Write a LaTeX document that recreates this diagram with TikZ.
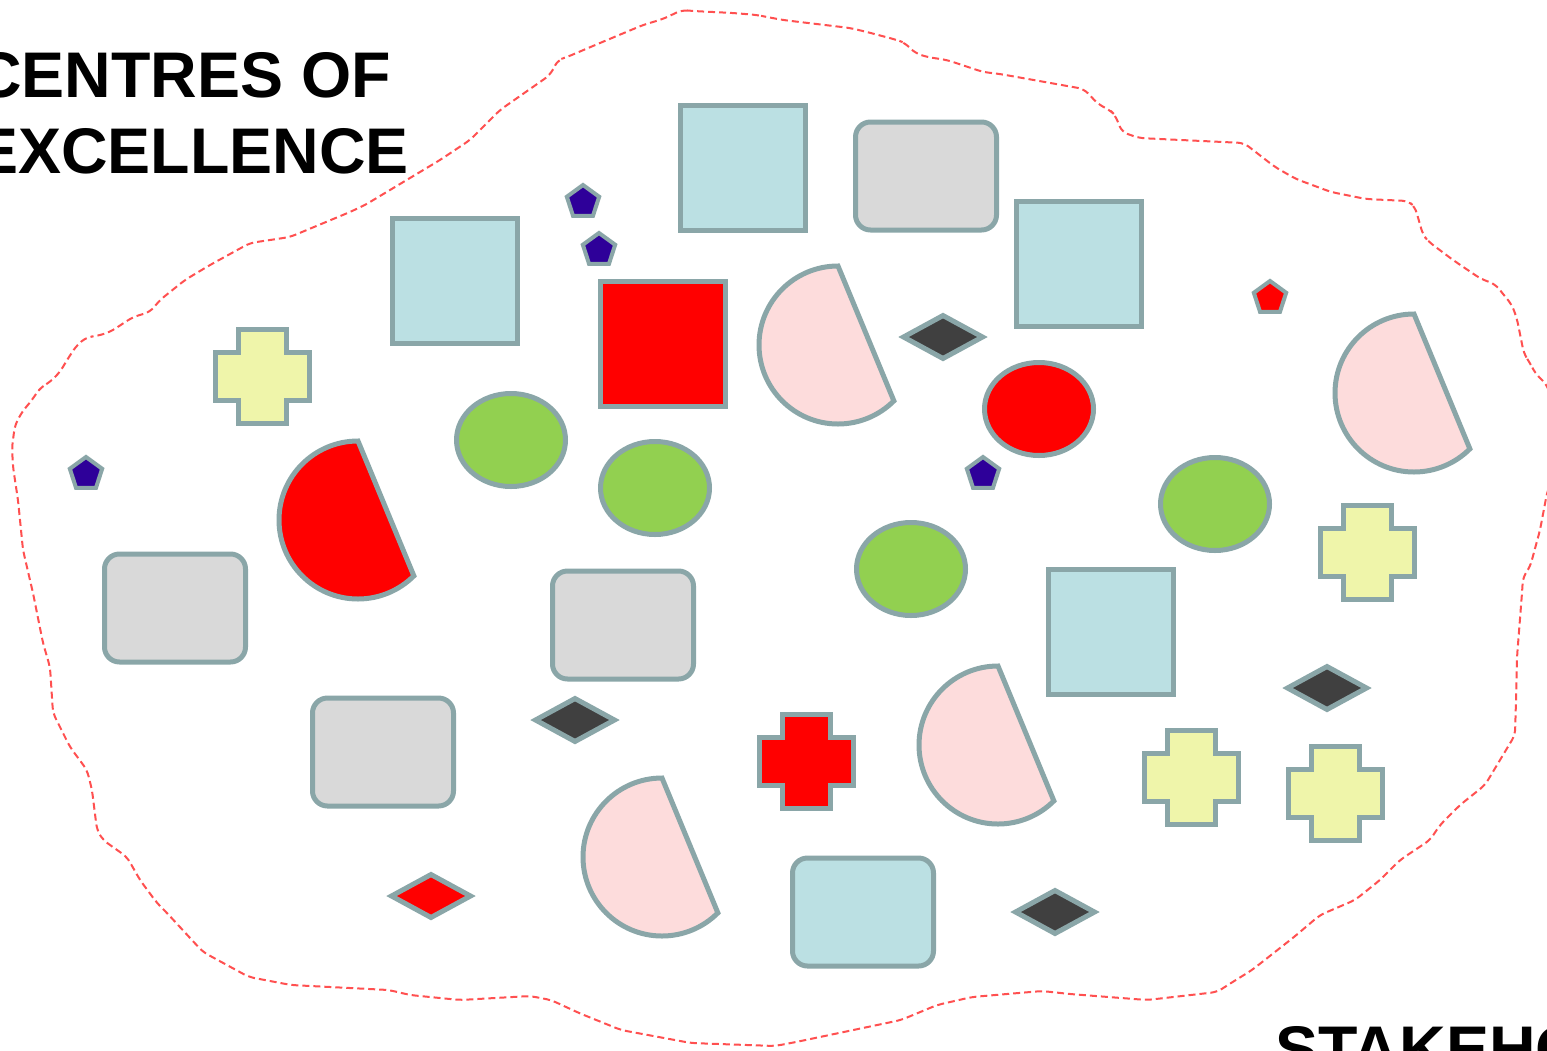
\documentclass[tikz,border=0pt]{standalone}
\usepackage{fontspec}
\setmainfont{Liberation Sans}
\usetikzlibrary{shapes.geometric}
\definecolor{edgegray}{HTML}{8AA6A8}
\definecolor{lblue}{HTML}{BBE0E3}
\definecolor{lgray}{HTML}{D9D9D9}
\definecolor{lpink}{HTML}{FDDCDC}
\definecolor{lgreen}{HTML}{92D050}
\definecolor{dgray}{HTML}{404040}
\definecolor{lyellow}{HTML}{EFF5AA}
\definecolor{purp}{HTML}{2E0099}
\definecolor{dashred}{HTML}{FF5050}
\tikzset{
  shapeline/.style={draw=edgegray, line width=5pt, line join=miter},
  sq/.style={shapeline, rectangle, minimum width=125pt, minimum height=125pt, inner sep=0pt},
  rrect/.style={shapeline, rectangle, rounded corners=15pt, minimum width=141pt, minimum height=108pt, inner sep=0pt},
  oval/.style={shapeline, ellipse, minimum width=109pt, minimum height=93pt, inner sep=0pt},
  rhomb/.style={shapeline, diamond, minimum width=81pt, minimum height=45pt, inner sep=0pt},
  penta/.style={draw=edgegray, line width=4pt, regular polygon, regular polygon sides=5, minimum size=34pt, inner sep=0pt},
  title/.style={inner sep=0pt, anchor=base west, font=\fontsize{64.5}{76}\selectfont\bfseries},
  boundary/.style={draw=dashred, line width=2pt, dash pattern=on 7pt off 4pt, rounded corners=6pt},
  pics/plusshape/.style={code={
    \path[shapeline, fill=#1] (-24,-47) -- (24,-47) -- (24,-24) -- (47,-24) -- (47,24) -- (24,24)
      -- (24,47) -- (-24,47) -- (-24,24) -- (-47,24) -- (-47,-24) -- (-24,-24) -- cycle;
  }},
  pics/pieshape/.style={code={
    \path[shapeline, fill=#1] (0,-79) arc[start angle=-90, end angle=-315, radius=79] -- cycle;
  }}
}
\begin{document}
\begin{tikzpicture}[x=1pt, y=-1pt]
\useasboundingbox (0,0) rectangle (1547,1050);
\clip (0,0) rectangle (1547,1050);
\fill[white] (0,0) rectangle (1547,1050);

% dashed boundary
\path[boundary] (682,10) -- (693,11) -- (733,13) -- (757,15) -- (767,17) -- (783,20) -- (850,28) -- (867,32) -- (897,40) -- (905,43) -- (915,53) -- (927,57) -- (947,60) -- (983,72) -- (1000,74) -- (1084,89) -- (1098,104) -- (1111,111) -- (1115,115) -- (1122,132) -- (1139,138) -- (1244,143) -- (1275,167) -- (1296,179) -- (1331,192) -- (1366,199) -- (1408,201) -- (1415,207) -- (1423,235) -- (1429,242) -- (1453,260) -- (1481,279) -- (1495,284) -- (1512,305) -- (1517,319) -- (1524,354) -- (1530,363) -- (1535,373) -- (1547,385) -- (1565,440) -- (1547,493) -- (1540,530) -- (1530,567) -- (1523,577) -- (1522,593) -- (1517,657) -- (1516,700) -- (1515,735) -- (1500,760) -- (1485,785) -- (1460,805) -- (1440,825) -- (1430,840) -- (1400,860) -- (1380,880) -- (1355,900) -- (1320,915) -- (1294,937) -- (1252,970) -- (1231,983) -- (1217,992) -- (1147,1000) -- (1070,994) -- (1042,991) -- (972,997) -- (937,1005) -- (901,1020) -- (796,1042) -- (775,1046) -- (691,1043) -- (621,1030) -- (579,1013) -- (551,1000) -- (530,996) -- (460,1000) -- (410,995) -- (389,990) -- (291,985) -- (249,977) -- (203,952) -- (167,913) -- (157,903) -- (140,880) -- (127,857) -- (103,840) -- (97,830) -- (92,790) -- (87,770) -- (70,747) -- (60,727) -- (53,713) -- (50,667) -- (43,643) -- (33,593) -- (23,550) -- (18,500) -- (13,467) -- (12,447) -- (15,425) -- (22,412) -- (32,400) -- (40,388) -- (50,382) -- (60,372) -- (67,360) -- (77,345) -- (87,337) -- (97,336) -- (110,332) -- (133,317) -- (150,312) -- (160,300) -- (185,280) -- (210,265) -- (250,243) -- (290,237) -- (350,212) -- (365,205) -- (390,190) -- (440,160) -- (470,140) -- (500,110) -- (550,75) -- (558,60) -- (567,57) -- (600,43) -- (643,25) -- (663,19) -- cycle;

% squares
\node[sq, fill=lblue] (sq1) at (743,168) {};
\node[sq, fill=lblue] (sq2) at (455,281) {};
\node[sq, fill=lblue] (sq3) at (1079,264) {};
\node[sq, fill=lblue] (sq4) at (1111,632) {};
\node[sq, fill=red] (sqr) at (663,344) {};

% rounded rectangles
\node[rrect, fill=lgray] (rr1) at (926,176) {};
\node[rrect, fill=lgray] (rr2) at (175,608) {};
\node[rrect, fill=lgray] (rr3) at (623,625) {};
\node[rrect, fill=lgray] (rr4) at (383,752) {};
\node[rrect, fill=lblue] (rr5) at (863,912) {};

% ellipses
\node[oval, fill=lgreen] (el1) at (511,440) {};
\node[oval, fill=lgreen] (el2) at (655,488) {};
\node[oval, fill=lgreen] (el3) at (911,569) {};
\node[oval, fill=lgreen] (el4) at (1215,504) {};
\node[oval, fill=red] (elr) at (1039,409) {};

% pies
\pic (pie1) at (838,345) {pieshape=lpink};
\pic (pie2) at (358,520) {pieshape=red};
\pic (pie3) at (1414,393) {pieshape=lpink};
\pic (pie4) at (998,745) {pieshape=lpink};
\pic (pie5) at (662,857) {pieshape=lpink};

% crosses
\pic (cr1) at (262,376) {plusshape=lyellow};
\pic (cr2) at (1367,552) {plusshape=lyellow};
\pic (cr3) at (1191,777) {plusshape=lyellow};
\pic (cr4) at (1335,793) {plusshape=lyellow};
\pic (cr5) at (806,761) {plusshape=red};

% diamonds
\node[rhomb, fill=dgray] (di1) at (943,337) {};
\node[rhomb, fill=dgray] (di2) at (575,720) {};
\node[rhomb, fill=dgray] (di3) at (1327,688) {};
\node[rhomb, fill=dgray] (di4) at (1055,912) {};
\node[rhomb, fill=red] (dir) at (431,896) {};

% pentagons
\node[penta, fill=purp] (pe1) at (583,202) {};
\node[penta, fill=purp] (pe2) at (599,250) {};
\node[penta, fill=purp] (pe3) at (86,474) {};
\node[penta, fill=purp] (pe4) at (983,474) {};
\node[penta, fill=red] (per) at (1270,298) {};

% titles
\node[title] (t1) at (-25,97) {CENTRES OF};
\node[title] (t2) at (-25,173) {EXCELLENCE};
\node[title] (t3) at (1275,1071) {STAKEHOLDERS};
\end{tikzpicture}
\end{document}
